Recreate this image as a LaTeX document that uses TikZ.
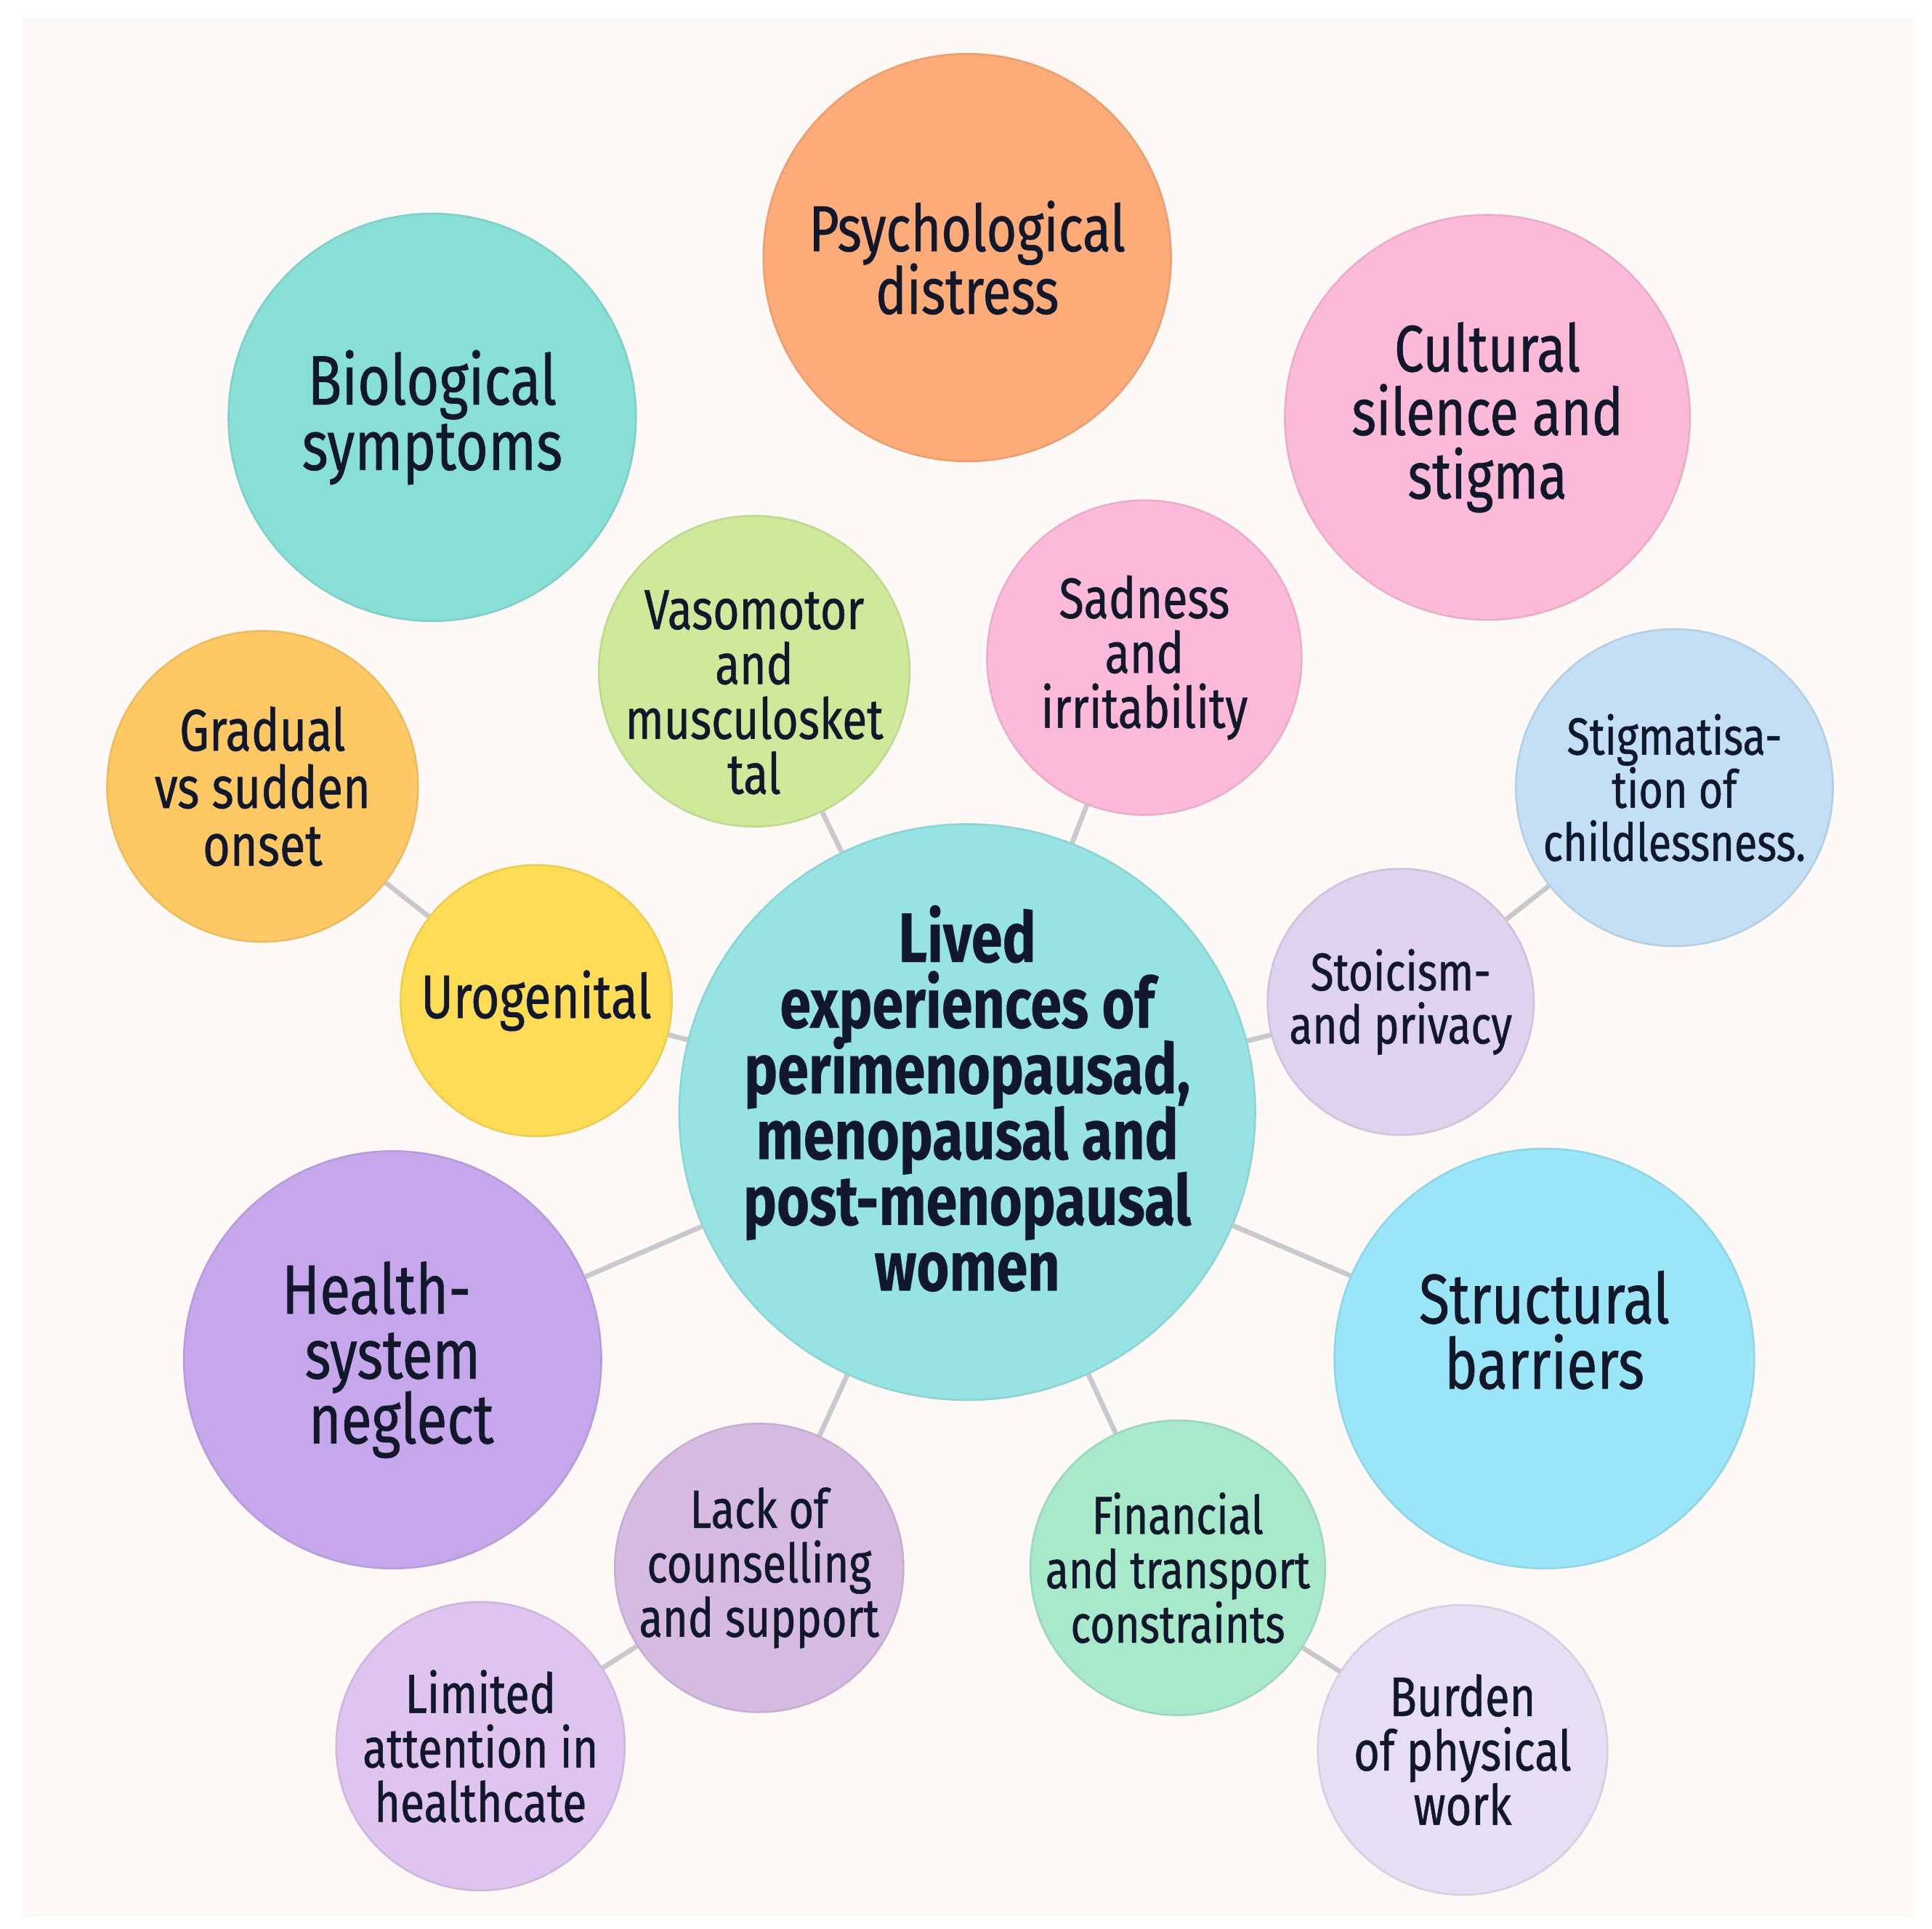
\documentclass[tikz,border=0pt]{standalone}
\usepackage{fontspec}
\setmainfont{Fira Sans}[FakeStretch=0.8, UprightFeatures={FakeBold=0.7}, BoldFeatures={FakeBold=0.3}]
\usepackage{tikz}
\setlength{\lineskiplimit}{-20pt}
\definecolor{ink}{HTML}{11182B}
\definecolor{panel}{HTML}{FCF9F7}
\definecolor{linkgray}{HTML}{C9C9CD}
\definecolor{psych}{HTML}{FDAB78}
\definecolor{bio}{HTML}{88DFD6}
\definecolor{cult}{HTML}{FDB9D8}
\definecolor{vaso}{HTML}{CFE99A}
\definecolor{sad}{HTML}{FDB9D9}
\definecolor{grad}{HTML}{FEC964}
\definecolor{stig}{HTML}{C2DFF6}
\definecolor{uro}{HTML}{FFDC55}
\definecolor{stoic}{HTML}{DED2EE}
\definecolor{core}{HTML}{97E3E3}
\definecolor{health}{HTML}{C6A7EC}
\definecolor{struct}{HTML}{9AE6F8}
\definecolor{lack}{HTML}{D6BAE1}
\definecolor{fin}{HTML}{A8E8CB}
\definecolor{lim}{HTML}{DEC4EE}
\definecolor{burden}{HTML}{E7DEF4}
\tikzset{
  bubble/.style={circle, inner sep=-4mm, align=center, text=ink,
    fill=#1, draw=#1!88!black!60!#1, line width=0.15mm},
  bigtxt/.style={font=\fontsize{16.1}{15}\selectfont},
  midtxt/.style={font=\fontsize{12.4}{12.5}\selectfont},
  coretxt/.style={font=\fontsize{16.1}{15.1}\selectfont\bfseries},
  link/.style={draw=linkgray, line width=0.4mm}
}

\begin{document}
\begin{tikzpicture}[x=0.1mm, y=-0.1mm]
    \fill[white] (0,0) rectangle (1560,1557.6);
    \fill[panel] (17,13.5) rectangle (1546.5,1547.7);
    \useasboundingbox (0,0) rectangle (1560,1557.6);

    % centre
    \node[bubble=core, minimum size=46.5mm,
      label={[coretxt, text=ink, align=center, yshift=1.1mm]center:Lived\\experiences of\\perimenopausad,\\menopausal and\\post-menopausal\\women}] (lived) at (781,898) {};

    % outer ring
    \node[bubble=psych, font=\fontsize{14.9}{14.4}\selectfont, minimum size=32.9mm] (psych) at (781,208) {Psychological\\distress};
    \node[bubble=bio,    bigtxt, minimum size=32.9mm] (bio)    at (349,337) {Biological\\symptoms};
    \node[bubble=cult, font=\fontsize{15.1}{14.6}\selectfont, minimum size=32.7mm] (cult) at (1201,337) {Cultural\\silence and\\stigma};
    \node[bubble=health, font=\fontsize{16}{14.9}\selectfont, minimum size=33.7mm] (health) at (317,1098) {Health-\hspace*{2.6mm}\\system\\\hspace*{1.4mm}neglect};
    \node[bubble=struct, minimum size=33.9mm,
      label={[bigtxt, text=ink, align=center, yshift=2.3mm]center:Structural\\barriers}] (struct) at (1247,1097) {};

    % inner ring
    \node[bubble=vaso, minimum size=25.1mm,
      label={[font=\fontsize{13}{12.6}\selectfont, text=ink, align=center, yshift=-1.7mm]center:Vasomotor\\and\\musculosket\\tal}] (vaso) at (609,542) {};
    \node[bubble=sad, font=\fontsize{13.1}{12.6}\selectfont, minimum size=25.4mm] (sad) at (924,531) {Sadness\\and\\irritability};
    \node[bubble=grad, font=\fontsize{13.5}{13.2}\selectfont, minimum size=25.1mm] (grad) at (212,635) {Gradual\\vs sudden\\onset};
    \node[bubble=stig, font=\fontsize{12}{12.2}\selectfont, minimum size=25.6mm] (stig) at (1352,636) {Stigmatisa-\\tion of\\childlessness.};
    \node[bubble=uro, font=\fontsize{14.1}{14.5}\selectfont, minimum size=21.9mm] (uro) at (433,808) {Urogenital};
    \node[bubble=stoic, font=\fontsize{12.2}{12.2}\selectfont, minimum size=21.5mm] (stoic) at (1131,809) {Stoicism-\\and privacy};
    \node[bubble=lack,   midtxt, minimum size=23.3mm] (lack)   at (613,1266) {Lack of\\counselling\\and support};
    \node[bubble=fin, font=\fontsize{12.2}{12.5}\selectfont, minimum size=23.8mm] (fin) at (951,1266) {Financial\\and transport\\constraints};
    \node[bubble=lim, font=\fontsize{12.7}{12.5}\selectfont, minimum size=23.3mm] (lim) at (388,1410) {Limited\\attention in\\healthcate};
    \node[bubble=burden, font=\fontsize{12.8}{12.5}\selectfont, minimum size=23.4mm] (burden) at (1181,1413) {Burden\\of physical\\work};

    \foreach \a/\b in {lived/vaso, lived/sad, lived/uro, lived/stoic, lived/health,
                       lived/struct, lived/lack, lived/fin, grad/uro, stoic/stig,
                       lack/lim, fin/burden}
      \draw[link] (\a) -- (\b);
\end{tikzpicture}
\end{document}
